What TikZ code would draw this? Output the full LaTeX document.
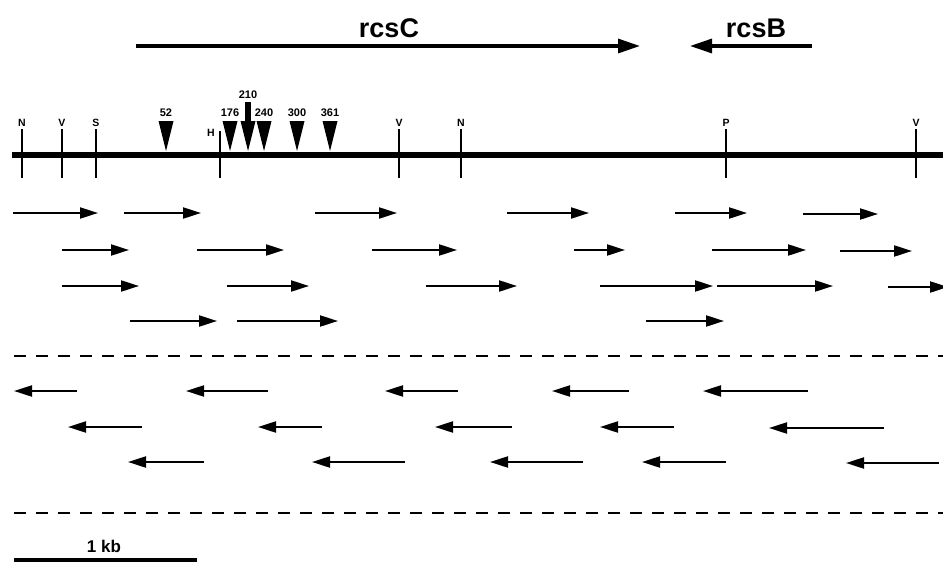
\documentclass[tikz,border=0pt]{standalone}
\usepackage{fontspec}
\setmainfont{Liberation Sans}
\usetikzlibrary{arrows.meta}
\begin{document}
\begin{tikzpicture}[x=1pt,y=-1pt,
  clone/.style={line width=2.1pt,-{Triangle[length=18pt,width=11pt]}},
  genearrow/.style={line width=3.2pt,-{Triangle[length=22pt,width=14pt]}},
  sitetick/.style={line width=2pt},
  sitelabel/.style={font=\bfseries\fontsize{10.5}{10.5}\selectfont,inner sep=0pt,anchor=south},
  mutlabel/.style={font=\bfseries\fontsize{11}{11}\selectfont,inner sep=0pt},
  genelabel/.style={font=\bfseries\fontsize{27}{27}\selectfont,inner sep=0pt},
  sepline/.style={line width=2pt,dash pattern=on 12pt off 10pt},
  insmark/.style={fill=black}
]
\useasboundingbox (0,0) rectangle (943,562);

% genes
\node[genelabel] (rcsC) at (389,28) {rcsC};
\node[genelabel] (rcsB) at (756,28) {rcsB};
\coordinate (cS) at (136,46); \coordinate (cE) at (640,46);
\coordinate (bS) at (812,46); \coordinate (bE) at (690,46);
\draw[genearrow] (cS) -- (cE);
\draw[genearrow] (bS) -- (bE);

% main map line
\coordinate (mL) at (12,155); \coordinate (mR) at (943,155);
\draw[line width=5.5pt] (mL) -- (mR);

% restriction sites
\foreach \x/\l/\n in {22/N/s1,62/V/s2,96/S/s3,399/V/s5,461/N/s6,726/P/s7,916/V/s8}{
  \draw[sitetick] (\x,129) -- (\x,178);
  \node[sitelabel] (\n) at (\x,127) {\l};
}
\draw[sitetick] (220,131) -- (220,178);
\node[sitelabel,anchor=center] (s4) at (211,133) {H};

% insertion markers
\foreach \x/\l in {166/52,230/176,264/240,297/300,330/361}{
  \fill[insmark] (\x-7.5,121) -- (\x+7.5,121) -- (\x,151) -- cycle;
  \node[mutlabel] (m\l) at (\x,113) {\l};
}
\fill[insmark] (245,102) rectangle (251,122);
\fill[insmark] (240.5,121) -- (255.5,121) -- (248,151) -- cycle;
\node[mutlabel] (m210) at (248,95) {210};

% forward clones
\foreach \a/\b/\y in {13/98/213,124/201/213,315/397/213,507/589/213,675/747/213,803/878/214,
  62/129/250,197/284/250,372/457/250,574/625/250,712/806/250,840/912/251,
  62/139/286,227/309/286,426/517/286,600/713/286,717/833/286,888/948/287,
  130/217/321,237/338/321,646/724/321}{
  \draw[clone] (\a,\y) -- (\b,\y);
}

% separators
\coordinate (d1L) at (14,356); \coordinate (d1R) at (943,356);
\coordinate (d2L) at (14,513); \coordinate (d2R) at (943,513);
\draw[sepline] (d1L) -- (d1R);
\draw[sepline] (d2L) -- (d2R);

% reverse clones
\foreach \a/\b/\y in {77/14/391,268/186/391,458/385/391,629/552/391,808/703/391,
  142/68/427,322/258/427,512/435/427,674/600/427,884/769/428,
  204/128/462,405/312/462,583/490/462,726/642/462,939/846/463}{
  \draw[clone] (\a,\y) -- (\b,\y);
}

% scale bar
\coordinate (kL) at (14,560); \coordinate (kR) at (197,560);
\draw[line width=4pt] (kL) -- (kR);
\node[font=\bfseries\fontsize{17}{17}\selectfont,inner sep=0pt] (kb) at (104,546) {1 kb};
\end{tikzpicture}
\end{document}
